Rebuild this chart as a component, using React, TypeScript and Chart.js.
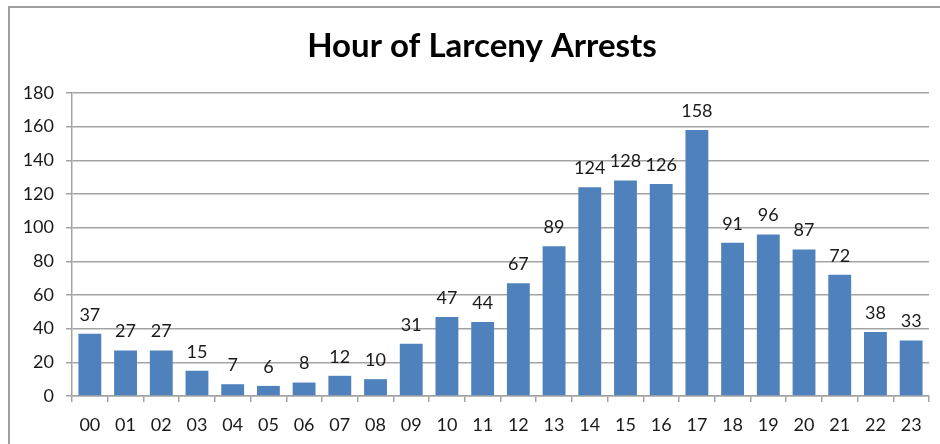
import React, { useEffect, useRef } from "react";
import { Chart, registerables } from "chart.js";

Chart.register(...registerables);

const TITLE = "Hour of Larceny Arrests";
const HOURS = ["00","01","02","03","04","05","06","07","08","09","10","11","12","13","14","15","16","17","18","19","20","21","22","23"];
const ARRESTS = [37,27,27,15,7,6,8,12,10,31,47,44,67,89,124,128,126,158,91,96,87,72,38,33];
const Y_MIN = 0;
const Y_MAX = 180;
const Y_STEP = 20;

const FONT = "Lato, 'Noto Sans', sans-serif";
const TEXT = "#1a1a1a";
const GRID = "#a3a3a3";
const BAR = "#4f81bd";

const valueLabels = {
  id: "valueLabels",
  afterDatasetsDraw(chart: any) {
    const ctx = chart.ctx;
    const meta = chart.getDatasetMeta(0);
    ctx.save();
    ctx.font = `18px ${FONT}`;
    ctx.fillStyle = TEXT;
    ctx.textAlign = "center";
    ctx.textBaseline = "middle";
    meta.data.forEach((el: any, i: number) => {
      ctx.fillText(String(chart.data.datasets[0].data[i]), el.x, el.y - 19);
    });
    ctx.restore();
  },
};

const titleText = {
  id: "titleText",
  afterDraw(chart: any) {
    const ctx = chart.ctx;
    ctx.save();
    ctx.font = `bold 33px ${FONT}`;
    ctx.fillStyle = "#000";
    ctx.textAlign = "center";
    ctx.textBaseline = "alphabetic";
    ctx.fillText(TITLE, 482, 57);
    ctx.restore();
  },
};

export default function App() {
  const ref = useRef<HTMLCanvasElement | null>(null);
  useEffect(() => {
    if (!ref.current) return;
    const chart = new Chart(ref.current, {
      type: "bar",
      data: {
        labels: HOURS,
        datasets: [
          {
            data: ARRESTS,
            backgroundColor: BAR,
            borderWidth: 0,
            categoryPercentage: 1,
            barPercentage: 0.64,
          },
        ],
      },
      options: {
        animation: false,
        responsive: false,
        maintainAspectRatio: false,
        layout: { padding: { left: 9, right: 11, top: 93, bottom: 0 } },
        plugins: {
          legend: { display: false },
          tooltip: { enabled: false },
          title: { display: false },
        },
        scales: {
          x: {
            offset: true,
            afterFit: (s: any) => {
              s.height = 48;
            },
            grid: {
              offset: true,
              drawOnChartArea: false,
              drawTicks: true,
              tickLength: 6,
              color: GRID,
              lineWidth: 1.5,
            },
            border: { display: true, color: GRID, width: 1.5 },
            ticks: {
              color: TEXT,
              font: { family: FONT, size: 18 },
              padding: 12,
              maxRotation: 0,
              autoSkip: false,
            },
          },
          y: {
            min: Y_MIN,
            max: Y_MAX,
            afterFit: (s: any) => {
              s.width = 63;
            },
            grid: {
              color: GRID,
              lineWidth: 1.5,
              tickLength: 6,
            },
            border: { display: true, color: GRID, width: 1.5 },
            ticks: {
              stepSize: Y_STEP,
              color: TEXT,
              font: { family: FONT, size: 18 },
              padding: 12,
            },
          },
        },
      },
      plugins: [valueLabels, titleText],
    });
    return () => chart.destroy();
  }, []);

  return (
    <div style={{ position: "fixed", left: 0, top: 0, width: 940, height: 444, background: "#fff" }}>
      <div
        style={{
          position: "absolute",
          left: 8,
          top: 6,
          width: 940,
          height: 450,
          borderLeft: "2px solid #a0a0a0",
          borderTop: "2px solid #a0a0a0",
          boxSizing: "border-box",
        }}
      />
      <canvas ref={ref} width={940} height={444} style={{ position: "absolute", left: 0, top: 0 }} />
    </div>
  );
}
